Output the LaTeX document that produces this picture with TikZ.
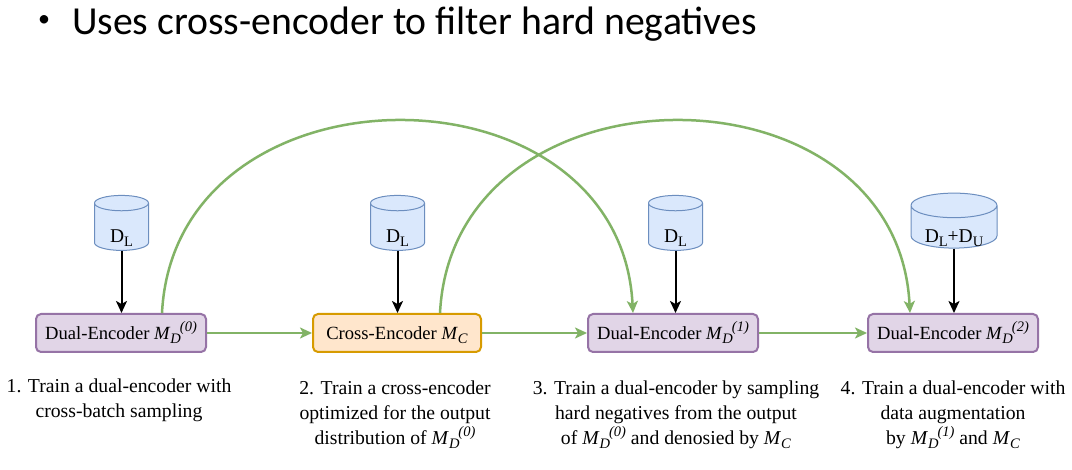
\documentclass[tikz,border=0pt]{standalone}
\usepackage{fontspec}
\setmainfont{Liberation Serif}
\newfontfamily\titlefont{Carlito}
\usetikzlibrary{arrows.meta,shapes.geometric,calc}
\definecolor{pfill}{HTML}{E1D5E7}
\definecolor{pdraw}{HTML}{9673A6}
\definecolor{ofill}{HTML}{FFE6CC}
\definecolor{odraw}{HTML}{D79B00}
\definecolor{bfill}{HTML}{DAE8FC}
\definecolor{bdraw}{HTML}{6C8EBF}
\definecolor{gline}{HTML}{82B366}
\newcommand\lsub[1]{\raisebox{-4.5pt}[0pt][0pt]{\fontsize{14.5}{15}\selectfont #1}}
\newcommand\lsup[1]{\raisebox{8pt}[0pt][0pt]{\fontsize{14.5}{15}\selectfont #1}}
\newcommand\Md[1]{\textit{M}\lsub{\textit{D}}\kern-1pt\lsup{\textit{(#1)}}}
\newcommand\Mc{\textit{M}\lsub{\textit{C}}}
\newcommand\Dsub[1]{D\lsub{#1}}
\newcommand\dbtext[1]{\raisebox{-9pt}[13pt][0pt]{#1}}
\begin{document}
\begin{tikzpicture}[x=1pt,y=-1pt,
  box/.style={draw, line width=2pt, rounded corners=5pt, minimum width=170pt,
    minimum height=38pt, inner sep=0pt, font=\fontsize{18.6}{23}\selectfont},
  dbox/.style={box, draw=pdraw, fill=pfill},
  cbox/.style={box, draw=odraw, fill=ofill, minimum width=168pt},
  db/.style={cylinder, shape border rotate=90, aspect=0.67, draw=bdraw, fill=bfill,
    line width=1pt, minimum width=54pt, minimum height=55pt, inner sep=0pt,
    font=\fontsize{19.5}{23}\selectfont},
  garrow/.style={draw=gline, line width=2.5pt, -{Stealth[length=12pt,width=11pt,inset=3pt]}},
  karrow/.style={draw=black, line width=2pt, -{Stealth[length=12pt,width=11pt,inset=3pt]}},
  desc/.style={align=center, anchor=north, inner sep=0pt,
    font=\fontsize{19.7}{24.8}\selectfont},
  titlestyle/.style={anchor=base west, inner sep=0pt, font=\titlefont\fontsize{39.7}{46}\selectfont}
]
\useasboundingbox[fill=white] (0,0) rectangle (1072,470);

% title
\node[inner sep=0pt, font=\titlefont\fontsize{24}{24}\selectfont] (bullet) at (44,21) {•};
\node[titlestyle] (title) at (72,35) {Uses cross-encoder to filter hard negatives};

% boxes
\node[dbox] (b1) at (121,333) {Dual-Encoder \Md{0}};
\node[cbox] (b2) at (397,333) {Cross-Encoder \Mc};
\node[dbox] (b3) at (673,333) {Dual-Encoder \Md{1}};
\node[dbox] (b4) at (953,333) {Dual-Encoder \Md{2}};

% databases
\node[db] (d1) at (121.5,227) {\dbtext{\Dsub{L}}};
\node[db] (d2) at (397.5,227) {\dbtext{\Dsub{L}}};
\node[db] (d3) at (675.5,227) {\dbtext{\Dsub{L}}};
\node[db, minimum width=86pt, aspect=0.42] (d4) at (954,227) {\dbtext{\Dsub{L}+\Dsub{U}}};

% data arrows
\draw[karrow] (d1.south) -- (d1.south |- b1.north);
\draw[karrow] (d2.south) -- (d2.south |- b2.north);
\draw[karrow] (d3.south) -- (d3.south |- b3.north);
\draw[karrow] (d4.south) -- (d4.south |- b4.north);

% pipeline arrows
\draw[garrow] (b1.east) -- (b2.west);
\draw[garrow] (b2.east) -- (b3.west);
\draw[garrow] (b3.east) -- (b4.west);

% long arcs
\coordinate (s1) at ($(b1.north)+(41,0)$);
\coordinate (e1) at ($(b3.north)+(-40,0)$);
\coordinate (s2) at ($(b2.north)+(43,0)$);
\coordinate (e2) at ($(b4.north)+(-43,0)$);
\draw[garrow] (s1) .. controls ($(s1)+(13,-256)$) and ($(e1)+(-13,-256)$) .. (e1);
\draw[garrow] (s2) .. controls ($(s2)+(13,-256)$) and ($(e2)+(-13,-256)$) .. (e2);

% descriptions
\node[desc] (t1) at (119,378.5) {1. Train a dual-encoder with\\cross-batch sampling};
\node[desc] (t2) at (395,381) {2. Train a cross-encoder\\optimized for the output\\distribution of \Md{0}};
\node[desc] (t3) at (676,381) {3. Train a dual-encoder by sampling\\hard negatives from the output\\of \Md{0} and denosied by \Mc};
\node[desc] (t4) at (953,381) {4. Train a dual-encoder with\\data augmentation\\by \Md{1} and \Mc};
\end{tikzpicture}
\end{document}
